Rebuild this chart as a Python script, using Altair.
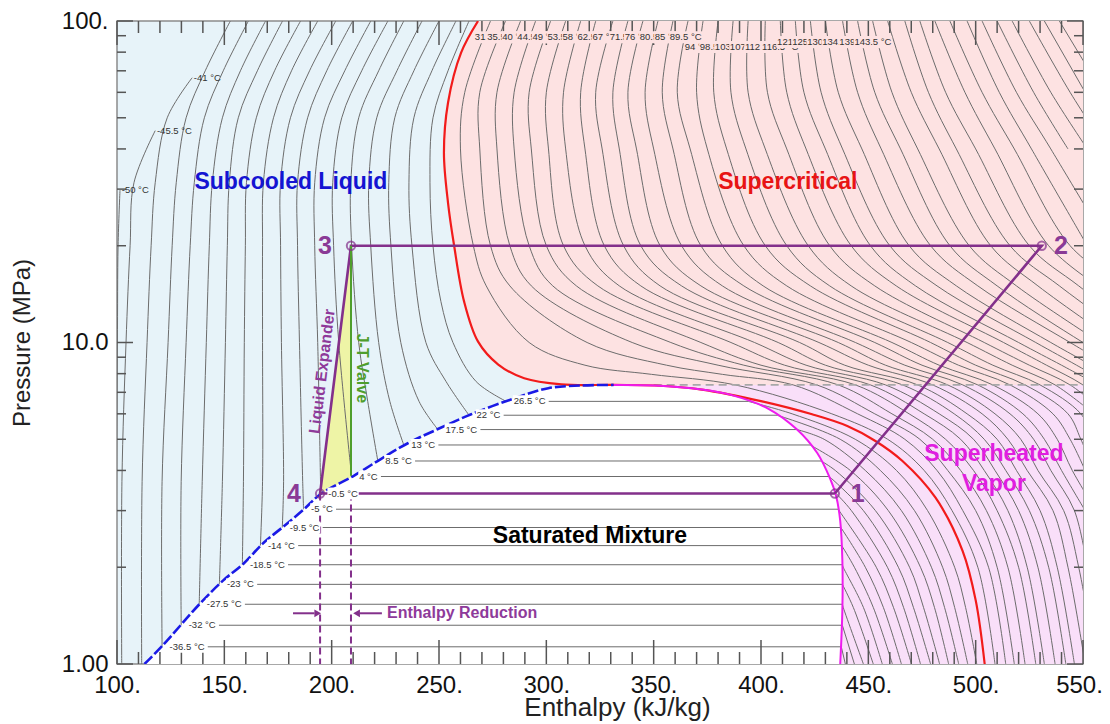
import altair as alt
import pandas as pd

# ---------------- axes ----------------
H_DOMAIN = [100, 550]
P_DOMAIN = [1, 100]
X_MAJOR = [100, 150, 200, 250, 300, 350, 400, 450, 500, 550]
X_MINOR = [110, 120, 130, 140, 160, 170, 180, 190, 210, 220, 230, 240, 260, 270, 280, 290,
           310, 320, 330, 340, 360, 370, 380, 390, 410, 420, 430, 440, 460, 470, 480, 490,
           510, 520, 530, 540]
Y_MAJOR = [1, 10, 100]
Y_MINOR = [2, 3, 4, 5, 6, 7, 8, 9, 20, 30, 40, 50, 60, 70, 80, 90]

# ---------------- saturation dome (h kJ/kg, P MPa) ----------------
LIQ_H = [112.8, 121.0, 138.8, 149.5, 158.9, 168.2, 177.0, 186.9, 194.9, 210.3, 222.9, 235.5,
         249.5, 265.0, 285.0, 300.9, 316.4, 331.3]
LIQ_P = [1.00, 1.137, 1.545, 1.82, 2.05, 2.38, 2.658, 3.02, 3.38, 3.85, 4.34, 4.86,
         5.38, 5.98, 6.70, 7.21, 7.35, 7.38]
VAP_H = [436.9, 437.9, 437.9, 436.9, 435.0, 432.2, 426.2, 416.8, 403.7, 386.4, 372.4, 350.5, 331.3]
VAP_P = [1.00, 1.47, 2.10, 2.79, 3.33, 3.77, 4.53, 5.36, 6.21, 6.86, 7.14, 7.35, 7.38]

# critical isotherm 31 C (red)
CRIT_H = [268.2, 260.3, 254.2, 252.3, 254.2, 257.0, 261.7, 268.2, 277.6, 289.7, 307.0, 331.3,
          350.5, 372.4, 400.5, 423.8, 440.2, 453.3, 465.9, 481.3, 493.9, 500.0, 504.2]
CRIT_P = [100, 79.7, 55.7, 38.9, 27.2, 20.1, 13.4, 10.06, 8.54, 7.74, 7.41, 7.38,
          7.35, 7.14, 6.56, 5.98, 5.50, 4.94, 4.28, 3.29, 2.25, 1.58, 1.0]
PC_LINE_H = [350.0, 550.0]
PC = 7.38

# ---------------- sub-critical isotherms ----------------
T_SUB = [-36.5, -32, -27.5, -23, -18.5, -14, -9.5, -5, -0.5, 4, 8.5, 13, 17.5, 22, 26.5]
P_SAT = [1.131, 1.32, 1.534, 1.769, 2.036, 2.335, 2.658, 3.03, 3.39, 3.83, 4.28, 4.80, 5.36, 5.94, 6.56]
H_F = [121.0, 129.9, 138.3, 147.7, 158.4, 166.8, 177.0, 186.9, 194.9, 209.3, 221.5, 233.6, 249.5, 264.0, 281.3]
H_G = [437.4, 437.9, 437.9, 437.9, 437.9, 437.6, 437.2, 436.0, 435.0, 431.8, 428.0, 422.9, 416.8, 407.5, 394.0]

# compressed-liquid branches: name -> (P list, h list)
LIQ_BRANCH = {
    "-50": ([1.0, 3.7, 10, 20, 29.8], [99.5, 99.8, 100.2, 100.5, 101.4]),
    "-45.5": ([1.0, 3.7, 10, 20, 31.4, 45.6], [102.2, 102.3, 104.2, 106.1, 107.9, 117.8]),
    "-41": ([1.0, 3.7, 10, 20, 31.4, 50, 66.6], [111.5, 111.7, 114.0, 115.9, 117.8, 123.4, 135.0]),
    "-36.5": ([1.131, 3.7, 10, 20, 31.4, 50, 70, 100], [121.0, 121.0, 123.8, 125.7, 127.6, 132.2, 141.1, 152.8]),
    "-32": ([1.32, 3.7, 10, 20, 31.4, 50, 70, 100], [129.9, 129.9, 132.2, 134.1, 136.0, 140.7, 149.5, 161.2]),
    "-27.5": ([1.534, 3.7, 10, 20, 31.4, 50, 70, 100], [138.3, 139.7, 141.6, 143.0, 144.4, 149.1, 157.5, 169.2]),
    "-23": ([1.769, 3.7, 10, 20, 31.4, 50, 70, 100], [147.7, 149.1, 150.5, 151.4, 152.3, 156.5, 165.4, 177.1]),
    "-18.5": ([2.036, 3.7, 10, 20, 31.4, 50, 70, 100], [158.4, 158.9, 159.3, 159.8, 160.3, 164.9, 173.4, 185.5]),
    "-14": ([2.335, 3.7, 10, 20, 31.4, 50, 70, 100], [166.8, 167.8, 167.8, 167.8, 168.2, 172.9, 181.3, 193.5]),
    "-9.5": ([2.658, 3.7, 10, 20, 31.4, 50, 70, 100], [177.0, 177.6, 176.6, 176.2, 176.2, 180.8, 189.7, 201.9]),
    "-5": ([3.03, 3.7, 10, 20, 31.4, 50, 70, 100], [186.9, 186.5, 185.0, 184.1, 184.1, 188.8, 197.7, 209.8]),
    "-0.5": ([3.39, 10, 20, 31.4, 50, 70, 100], [194.9, 193.5, 192.1, 192.1, 196.7, 206.1, 218.2]),
    "4": ([3.83, 10, 20, 31.4, 50, 70, 100], [209.3, 203.3, 200.9, 200.5, 204.7, 214.0, 226.2]),
    "8.5": ([4.28, 6.56, 10, 20, 31.4, 50, 70, 100], [221.5, 216.8, 212.6, 209.3, 208.9, 212.6, 221.9, 233.6]),
    "13": ([4.80, 6.56, 10, 20, 31.4, 50, 70, 100], [233.6, 227.1, 221.9, 218.2, 217.3, 221.0, 230.4, 242.1]),
    "17.5": ([5.36, 6.56, 10, 20, 31.4, 50, 70, 100], [249.5, 240.7, 232.2, 227.6, 226.6, 229.4, 238.3, 250.0]),
    "22": ([5.94, 7.56, 10, 20, 31.4, 50, 70, 100], [264.0, 253.3, 243.9, 237.4, 236.0, 238.3, 246.7, 257.9]),
    "26.5": ([6.56, 7.56, 10, 13.4, 20, 31.4, 50, 70, 100], [281.3, 267.3, 256.5, 250.9, 247.2, 245.8, 247.2, 254.2, 264.0]),
}
END_LABELS = ["-50 °C", "-45.5 °C", "-41 °C"]
END_H = [101.4, 117.8, 135.0]
END_P = [29.8, 45.6, 66.6]

# superheated-vapour branches of the sub-critical isotherms, read along these pressures
V_SCAN = [6, 5, 4, 3, 2, 1.5, 1]
V_ISO = [
    [None, None, None, None, None, None, 439.3],
    [None, None, None, None, None, None, 443.5],
    [None, None, None, None, None, 438.3, 447.7],
    [None, None, None, None, None, 443.0, 452.3],
    [None, None, None, None, 438.3, 447.7, 456.5],
    [None, None, None, None, 443.5, 452.3, 461.2],
    [None, None, None, None, 448.6, 457.0, 465.4],
    [None, None, None, 436.4, 453.7, 461.7, 470.1],
    [None, None, None, 442.1, 458.9, 466.4, 474.3],
    [None, None, None, 447.7, 464.0, 471.0, 479.0],
    [None, None, 434.6, 453.3, 469.2, 475.7, 483.2],
    [None, None, 441.6, 459.3, 474.3, 480.8, 487.4],
    [None, 429.4, 448.6, 465.4, 479.4, 485.5, 492.1],
    [None, 436.9, 455.6, 471.5, 484.6, 490.2, 496.3],
    [414.5, 443.9, 463.1, 477.6, 490.2, 495.3, 500.5],
]

# ---------------- super-critical isotherms ----------------
SC_T = [35.5, 40, 44.5, 49, 53.5, 58, 62.5, 67, 71.5, 76, 80.5, 85, 89.5, 94, 98.5, 103, 107.5,
        112, 116.5, 121, 125.5, 130, 134.5, 139, 143.5, 148, 152.5, 157, 161.5, 166, 170.5, 175,
        179.5, 184, 188.5, 193, 197.5, 202, 206.5]
SC_SCAN = [100, 60, 40, 20, 15, 10, 8.5, 7.96, 7.38, 6, 5, 4, 3, 2, 1]
SC_H = {
    100: [274, 281, 288, 295, 302, 309, 316, 323, 331, 338, 345, 352, 359, 366, 373, 380, 387, 394, 402,
          409, 416, 423, 430, 438, 445, 452, 459, 467, 474, 481, 488, 496, 503, 510, 517, 525, 532, 539, 546],
    60: [262, 269, 277, 285, 292, 300, 308, 316, 323, 331, 338, 346, 354, 361, 370, 378, 386, 394, 403,
         412, 420, 428, 436, 445, 453, 461, 470, 478, 486, 495, 503, 511, 519, 527, 535, 544, 551, 559],
    40: [260, 269, 277, 285, 293, 301, 309, 318, 326, 334, 342, 350, 359, 367, 375, 384, 393, 402, 412,
         421, 430, 438, 447, 456, 465, 473, 483, 491, 500, 509, 518, 526, 535, 543, 552, 561],
    20: [266, 274, 283, 292, 300, 308, 318, 327, 336, 344, 353, 363, 372, 382, 392, 402, 412, 422, 432,
         442, 451, 460, 469, 479, 488, 497, 507, 516, 525, 534, 544, 552, 562],
    15: [272, 283, 293, 303, 314, 324, 334, 344, 353, 363, 372, 382, 392, 401, 412, 423, 432, 442, 453,
         463, 472, 482, 491, 501, 510, 519, 529, 539, 548, 557, 568],
    10: [292, 319, 340, 358, 372, 386, 397, 408, 418, 427, 436, 444, 453, 461, 470, 479, 487, 496, 504,
         513, 520, 528, 535, 544, 550, 558, 566, 575, 583],
    8.5: [318, 356, 380, 392, 400, 411, 421, 430, 439, 450, 458, 467, 475, 483, 492, 500, 508, 517, 525,
          533, 540, 547, 554, 562, 568],
    7.96: [349, 382],
    7.38: [388, 415, 426, 436, 444, 451, 458, 466, 473, 480, 487, 494, 501, 508, 516, 523, 530, 537, 544,
           550, 557, 563, 570],
    6: [433, 445, 453, 461, 469, 476, 483, 490, 496, 503, 509, 516, 522, 529, 536, 543, 549, 555, 561, 567],
    5: [459, 467, 474, 480, 486, 493, 499, 504, 510, 515, 521, 527, 532, 538, 544, 549, 555],
    4: [476, 482, 487, 493, 499, 504, 509, 514, 519, 524, 529, 535, 540, 545, 551, 555],
    3: [489, 494, 500, 505, 510, 515, 520, 525, 530, 536, 541, 546, 551, 556],
    2: [501, 506, 510, 515, 520, 524, 529, 534, 538, 543, 548, 552],
    1: [509, 514, 518, 523, 528, 532, 537, 542, 546, 551, 556],
}
N_TOP_LABELS = 26

# ---------------- refrigeration cycle ----------------
STATE_NAME = ["1", "2", "3", "4"]
STATE_H = [434.4, 530.8, 209.0, 194.6]
STATE_P = [3.39, 20.0, 20.0, 3.39]
STATE_LABEL_H = [445.1, 539.7, 196.9, 182.4]
JT_END_P = 3.85
ARROW_P = 1.438

# ================= geometry helpers (style only) =================
W, H = 966, 643
PX_PER_H = W / (H_DOMAIN[1] - H_DOMAIN[0])
PX_PER_DECADE = H / 2.0
SMALL_FS = 9.5
CHAR_EM = {"-": 0.333, ".": 0.278, " ": 0.278, "°": 0.4, "C": 0.722}


def text_w_h(s, fs):
    """approximate text width, expressed in enthalpy units"""
    return sum(CHAR_EM.get(c, 0.556) for c in s) * fs / PX_PER_H


HALF_BOX = 10 ** (6 / PX_PER_DECADE)

# ================= build tables =================
rows = []


def add_line(name, hs, ps):
    for i, (h, p) in enumerate(zip(hs, ps)):
        rows.append({"id": name, "o": i, "h": h, "P": p})


dome_txt = [f"{t:g} °C" for t in T_SUB]
dome_lbl_h = [hf + 3.5 for hf in H_F]

for name, (ps, hs) in LIQ_BRANCH.items():
    add_line("L" + name, hs, ps)
for i, t in enumerate(T_SUB):
    start = dome_lbl_h[i] + text_w_h(dome_txt[i], SMALL_FS) + 1.5
    add_line(f"D{t}", [start, H_G[i]], [P_SAT[i], P_SAT[i]])
for i, t in enumerate(T_SUB):
    hs, ps = [H_G[i]], [P_SAT[i]]
    for j, p in enumerate(V_SCAN):
        v = V_ISO[i][j]
        if v is not None:
            hs.append(v)
            ps.append(p)
    add_line(f"V{t}", hs, ps)
for k, t in enumerate(SC_T):
    hs, ps = [], []
    for p in SC_SCAN:
        lst = SC_H[p]
        if k < len(lst):
            hs.append(lst[k])
            ps.append(p)
            if lst[k] > H_DOMAIN[1]:
                break
    add_line(f"S{t}", hs, ps)
iso_df = pd.DataFrame(rows)

liq_df = pd.DataFrame({"h": LIQ_H, "P": LIQ_P, "o": range(len(LIQ_H))})
liq_df["h2"] = H_DOMAIN[1]
vap_df = pd.DataFrame({"h": VAP_H, "P": VAP_P, "o": range(len(VAP_H))})
vap_df["h2"] = H_DOMAIN[1]
crit_df = pd.DataFrame({"h": CRIT_H, "P": CRIT_P, "o": range(len(CRIT_H))})
sc_area_df = crit_df[crit_df["P"] >= PC].sort_values("P").copy()
sc_area_df["h2"] = H_DOMAIN[1]
pc_df = pd.DataFrame({"h": PC_LINE_H, "P": [PC, PC], "o": [0, 1]})

tri_df = pd.DataFrame({"P": [STATE_P[3], STATE_P[2]], "h": [STATE_H[3], STATE_H[2]],
                       "h2": [STATE_H[2], STATE_H[2]]})

cyc_order = [0, 1, 2, 3, 0]
cyc_df = pd.DataFrame({"h": [STATE_H[i] for i in cyc_order], "P": [STATE_P[i] for i in cyc_order],
                       "o": range(5)})
jt_df = pd.DataFrame({"h": [STATE_H[2], STATE_H[2]], "P": [STATE_P[2], JT_END_P], "o": [0, 1]})
drop_df = pd.DataFrame({"id": ["a", "a", "b", "b"],
                        "h": [STATE_H[3], STATE_H[3], STATE_H[2], STATE_H[2]],
                        "P": [STATE_P[3], 1.0, STATE_P[3], 1.0], "o": [0, 1, 0, 1]})
state_df = pd.DataFrame({"h": STATE_H, "P": STATE_P, "t": STATE_NAME, "lh": STATE_LABEL_H})

arrow_df = pd.DataFrame({"id": ["r", "r", "l", "l"], "h": [182.0, 192.0, 223.4, 213.0],
                         "P": [ARROW_P] * 4, "o": [0, 1, 0, 1]})
arrow_r = pd.DataFrame({"h": [193.5], "P": [ARROW_P]})
arrow_l = pd.DataFrame({"h": [211.6], "P": [ARROW_P]})

dome_lbl = pd.DataFrame({"h": dome_lbl_h, "P": P_SAT, "t": dome_txt})
dome_box = pd.DataFrame({"h": [h - 0.4 for h in dome_lbl_h],
                         "h2": [h + text_w_h(s, SMALL_FS) + 0.4 for h, s in zip(dome_lbl_h, dome_txt)],
                         "P": [p / HALF_BOX for p in P_SAT], "P2": [p * HALF_BOX for p in P_SAT]})
end_lbl = pd.DataFrame({"h": [h + 0.8 for h in END_H], "P": END_P, "t": END_LABELS})
top_T = [31] + SC_T[:N_TOP_LABELS - 1]
top_H = [CRIT_H[0]] + SC_H[100][:N_TOP_LABELS - 1]
top_P = [89 if i < 14 else (83 if i < 20 else 86) for i in range(N_TOP_LABELS)]

region_df = pd.DataFrame({
    "t": ["Subcooled Liquid", "Supercritical", "Superheated", "Vapor", "Saturated Mixture"],
    "h": [181.0, 412.5, 508.5, 508.5, 320.3],
    "P": [31.5, 31.5, 4.50, 3.63, 2.51],
    "c": ["#1414d2", "#e81414", "#e01ee0", "#e01ee0", "#000000"],
})
le_df = pd.DataFrame({"t": ["Liquid Expander"], "h": [195.6], "P": [8.13]})
jt_lbl = pd.DataFrame({"t": ["J-T Valve"], "h": [214.1], "P": [8.31]})
er_df = pd.DataFrame({"t": ["Enthalpy Reduction"], "h": [225.8], "P": [ARROW_P]})

# ================= chart =================
FONT = "Liberation Sans"
PURPLE = "#83308b"
SC_FILL = "#fde2e2"
XS = alt.Scale(domain=H_DOMAIN, nice=False, zero=False)
YS = alt.Scale(type="log", domain=P_DOMAIN, nice=False)
XAXIS = alt.Axis(values=X_MAJOR, labelExpr="datum.value + '.'", ticks=False, domain=False, grid=False,
                 labelFont=FONT, labelFontSize=24, labelColor="#111111", labelPadding=9,
                 labelOffset={"condition": {"test": "datum.value == 550", "value": -4}, "value": 0},
                 labelFlush=False, labelOverlap=False, title="Enthalpy (kJ/kg)", titleFont=FONT,
                 titleFontSize=26, titleFontWeight="normal", titleColor="#222222", titleX=500,
                 titleY=43, titleBaseline="middle", titleAlign="center")
YAXIS = alt.Axis(values=Y_MAJOR,
                 labelExpr="datum.value == 1 ? '1.00' : (datum.value == 10 ? '10.0' : '100.')",
                 ticks=False, domain=False, grid=False, labelFont=FONT, labelFontSize=24,
                 labelColor="#111111", labelPadding=9, labelFlush=False, labelOverlap=False,
                 title="Pressure (MPa)", titleFont=FONT, titleFontSize=24, titleFontWeight="normal",
                 titleColor="#222222", titleX=-95, titleY=H / 2, titleAngle=270,
                 titleBaseline="middle", titleAlign="center")


def X(f="h"):
    return alt.X(f"{f}:Q", scale=XS, axis=XAXIS)


def Y(f="P"):
    return alt.Y(f"{f}:Q", scale=YS, axis=YAXIS)


layers = []
# regions
layers.append(alt.Chart(tri_df).mark_area(orient="horizontal", color="#eef4a6", clip=True)
              .encode(y=Y(), x=X(), x2="h2:Q"))
layers.append(alt.Chart(liq_df).mark_area(orient="horizontal", color="#ffffff", interpolate="catmull-rom", clip=True)
              .encode(y=Y(), x=X(), x2="h2:Q"))
layers.append(alt.Chart(vap_df).mark_area(orient="horizontal", color="#f9dff9", interpolate="catmull-rom", clip=True)
              .encode(y=Y(), x=X(), x2="h2:Q"))
layers.append(alt.Chart(sc_area_df).mark_area(orient="horizontal", color=SC_FILL, interpolate="catmull-rom", clip=True)
              .encode(y=Y(), x=X(), x2="h2:Q"))
# isotherms
layers.append(alt.Chart(iso_df).mark_line(color="#6c6c6c", strokeWidth=1, interpolate="catmull-rom", clip=True)
              .encode(x=X(), y=Y(), detail="id:N", order="o:Q"))
layers.append(alt.Chart(pc_df).mark_line(color="#a8a8a8", strokeWidth=1.6, strokeDash=[8, 5], clip=True)
              .encode(x=X(), y=Y(), order="o:Q"))
layers.append(alt.Chart(crit_df).mark_line(color="#f21b1b", strokeWidth=2.2, interpolate="catmull-rom", clip=True)
              .encode(x=X(), y=Y(), order="o:Q"))
layers.append(alt.Chart(vap_df).mark_line(color="#ee1cee", strokeWidth=2, interpolate="catmull-rom", clip=True)
              .encode(x=X(), y=Y(), order="o:Q"))
layers.append(alt.Chart(liq_df).mark_line(color="#1a1ae6", strokeWidth=2.6, strokeDash=[11, 3],
                                          interpolate="catmull-rom", clip=True)
              .encode(x=X(), y=Y(), order="o:Q"))
# inside ticks
tick_col = "#555555"
xmaj = pd.DataFrame({"h": X_MAJOR})
xmin = pd.DataFrame({"h": X_MINOR})
ymaj = pd.DataFrame({"P": Y_MAJOR})
ymin = pd.DataFrame({"P": Y_MINOR})
for df, ln in [(xmaj, 24), (xmin, 12)]:
    layers.append(alt.Chart(df).mark_rule(color=tick_col, strokeWidth=1.5)
                  .encode(x=X(), y=alt.value(H), y2=alt.value(H - ln)))
    layers.append(alt.Chart(df).mark_rule(color=tick_col, strokeWidth=1.5)
                  .encode(x=X(), y=alt.value(0), y2=alt.value(ln)))
for df, ln in [(ymaj, 16), (ymin, 9)]:
    layers.append(alt.Chart(df).mark_rule(color=tick_col, strokeWidth=1.5)
                  .encode(y=Y(), x=alt.value(0), x2=alt.value(ln)))
    layers.append(alt.Chart(df).mark_rule(color=tick_col, strokeWidth=1.5)
                  .encode(y=Y(), x=alt.value(W), x2=alt.value(W - ln)))
# cycle
layers.append(alt.Chart(drop_df).mark_line(color=PURPLE, strokeWidth=2, strokeDash=[7, 4])
              .encode(x=X(), y=Y(), detail="id:N", order="o:Q"))
layers.append(alt.Chart(cyc_df).mark_line(color=PURPLE, strokeWidth=2.6)
              .encode(x=X(), y=Y(), order="o:Q"))
layers.append(alt.Chart(jt_df).mark_line(color="#4f9e2c", strokeWidth=2)
              .encode(x=X(), y=Y(), order="o:Q"))
layers.append(alt.Chart(arrow_df).mark_line(color=PURPLE, strokeWidth=2)
              .encode(x=X(), y=Y(), detail="id:N", order="o:Q"))
layers.append(alt.Chart(arrow_r).mark_point(shape="triangle-right", filled=True, size=60, color=PURPLE, opacity=1)
              .encode(x=X(), y=Y()))
layers.append(alt.Chart(arrow_l).mark_point(shape="triangle-left", filled=True, size=60, color=PURPLE, opacity=1)
              .encode(x=X(), y=Y()))

# small labels on the dome (white backing) and at line ends
layers.append(alt.Chart(dome_box).mark_rect(color="#ffffff").encode(x=X(), x2="h2:Q", y=Y(), y2="P2:Q"))
for df in [dome_lbl, end_lbl]:
    layers.append(alt.Chart(df).mark_text(font=FONT, fontSize=SMALL_FS, align="left", baseline="middle",
                                          color="#333333")
                  .encode(x=X(), y=Y(), text="t:N"))
layers.append(alt.Chart(state_df).mark_point(shape="circle", filled=False, size=70, strokeWidth=2, color=PURPLE)
              .encode(x=X(), y=Y()))

# labels at the top: each on its own backing box, later ones covering earlier ones
for i in range(N_TOP_LABELS):
    txt = f"{top_T[i]:g} °C"
    h0 = top_H[i] - 1.5
    box = pd.DataFrame({"h": [h0 - 0.3], "h2": [h0 + text_w_h(txt, SMALL_FS) + 0.3],
                        "P": [top_P[i] / HALF_BOX], "P2": [top_P[i] * HALF_BOX]})
    layers.append(alt.Chart(box).mark_rect(color=SC_FILL, clip=True)
                  .encode(x=X(), x2="h2:Q", y=Y(), y2="P2:Q"))
    one = pd.DataFrame({"h": [h0], "P": [top_P[i]], "t": [txt]})
    layers.append(alt.Chart(one).mark_text(font=FONT, fontSize=SMALL_FS, align="left", baseline="middle",
                                           color="#333333")
                  .encode(x=X(), y=Y(), text="t:N"))

# region labels
layers.append(alt.Chart(region_df).mark_text(font=FONT, fontSize=23, fontWeight="bold", align="center",
                                             baseline="middle")
              .encode(x=X(), y=Y(), text="t:N", color=alt.Color("c:N", scale=None)))
# state numbers
layers.append(alt.Chart(state_df).mark_text(font=FONT, fontSize=25, fontWeight="bold", color="#8a3a96",
                                            align="center", baseline="middle")
              .encode(x=X("lh"), y=Y(), text="t:N"))
# process labels
layers.append(alt.Chart(le_df).mark_text(font=FONT, fontSize=16, fontWeight="bold", color="#8e3a9a",
                                         align="center", baseline="middle", angle=277)
              .encode(x=X(), y=Y(), text="t:N"))
layers.append(alt.Chart(jt_lbl).mark_text(font=FONT, fontSize=16, fontWeight="bold", color="#4f9e2c",
                                          align="center", baseline="middle", angle=90)
              .encode(x=X(), y=Y(), text="t:N"))
layers.append(alt.Chart(er_df).mark_text(font=FONT, fontSize=16, fontWeight="bold", color="#8e3a9a",
                                         align="left", baseline="middle")
              .encode(x=X(), y=Y(), text="t:N"))

chart = alt.layer(*layers).properties(
    width=W, height=H,
    padding={"left": 109, "top": 13, "right": 19, "bottom": 57},
    autosize=alt.AutoSizeParams(type="none"),
).configure_view(fill="#e7f3f9", stroke="#8c8c8c", strokeWidth=1.5)

chart.save("out.html", embed_options={"renderer": "svg", "actions": False})
